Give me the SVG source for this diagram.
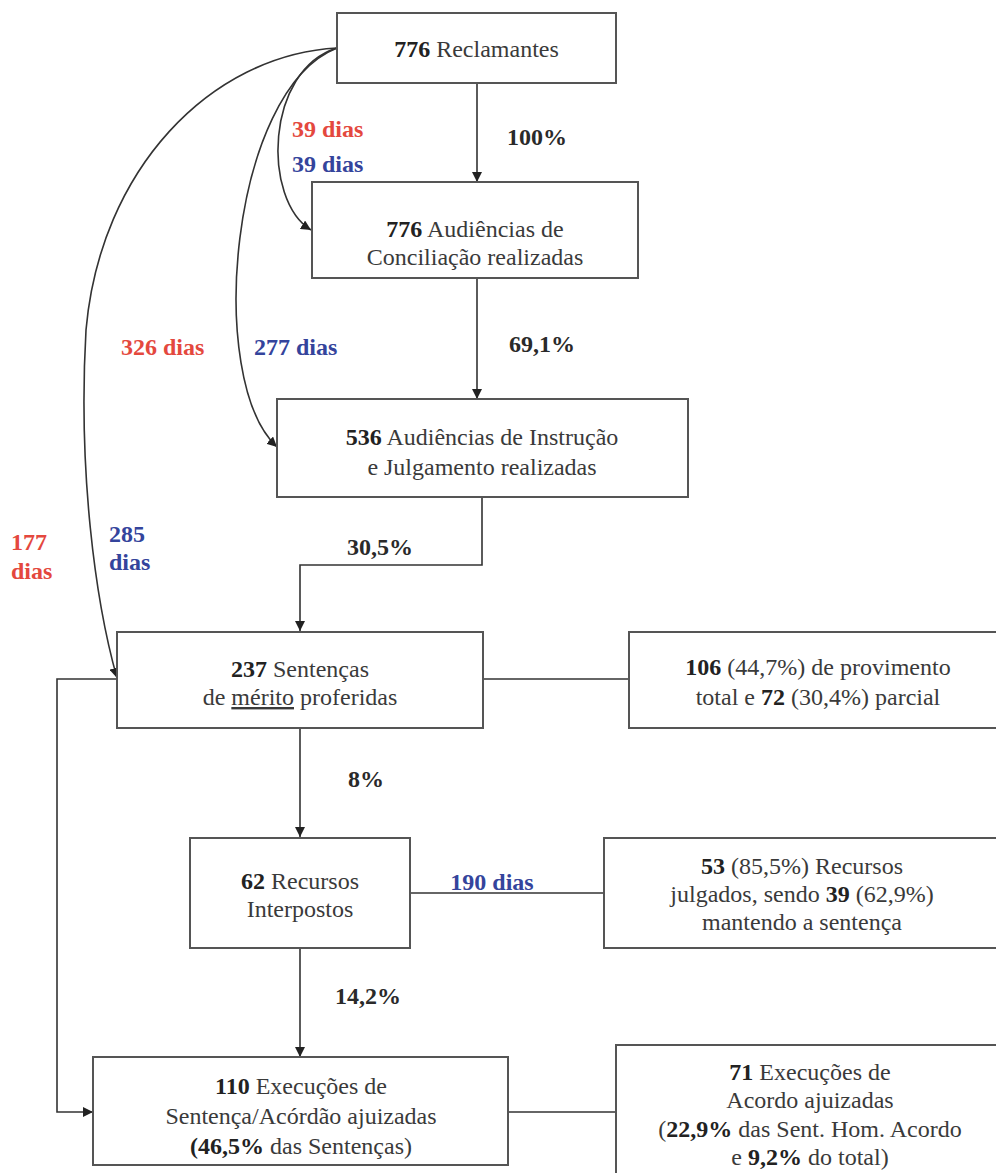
<svg xmlns="http://www.w3.org/2000/svg" width="996" height="1173" viewBox="0 0 996 1173">
<defs>
<style>
text{font-family:'Liberation Serif','Times New Roman','DejaVu Serif',serif;font-size:24px}
.box{fill:#fff;stroke:#555;stroke-width:2}
.t{fill:#3a3a3a;text-anchor:middle}
.b{font-weight:bold;fill:#222}
.lbl{font-weight:bold;fill:#2a2a2a;text-anchor:middle}
.red{font-weight:bold;fill:#e4483e}
.blue{font-weight:bold;fill:#34449c}
.ln{fill:none;stroke:#333;stroke-width:1.6}
</style>
<marker id="arr" viewBox="0 0 10 10" refX="10" refY="5" markerWidth="10" markerHeight="10" markerUnits="userSpaceOnUse" orient="auto">
<path d="M0,0 L10,5 L0,10 Z" fill="#222"/>
</marker>
</defs>
<rect width="996" height="1173" fill="#fff"/>
<g id="connectors">
<path class="ln" d="M477,83 V182" marker-end="url(#arr)"/>
<path class="ln" d="M477,278 V399" marker-end="url(#arr)"/>
<path class="ln" d="M482,497 V565 H300 V631" marker-end="url(#arr)"/>
<path class="ln" d="M300,728 V837" marker-end="url(#arr)"/>
<path class="ln" d="M300,948 V1057" marker-end="url(#arr)"/>
<path class="ln" d="M483,679 H629"/>
<path class="ln" d="M410,893 H604"/>
<path class="ln" d="M508,1112 H616"/>
<path class="ln" d="M117,679 H57 V1112 H93" marker-end="url(#arr)"/>
<path class="ln" d="M337,48 C265,70 262,200 311,230" marker-end="url(#arr)"/>
<path class="ln" d="M337,48 C230,90 205,380 277,447" marker-end="url(#arr)"/>
<path class="ln" d="M337,48 C210,55 100,170 86,330 C78,470 95,600 117,678" marker-end="url(#arr)"/>
</g>
<g id="labels">
<text class="lbl" x="537" y="145">100%</text>
<text class="lbl" x="542" y="352">69,1%</text>
<text class="lbl" x="380" y="555">30,5%</text>
<text class="lbl" x="366" y="787">8%</text>
<text class="lbl" x="368" y="1004">14,2%</text>
<text class="blue" x="492" y="890" text-anchor="middle">190 dias</text>
<text class="red" x="292" y="137">39 dias</text>
<text class="blue" x="292" y="172">39 dias</text>
<text class="red" x="121" y="355">326 dias</text>
<text class="blue" x="254" y="355">277 dias</text>
<text class="red" x="11" y="550">177</text>
<text class="red" x="11" y="579">dias</text>
<text class="blue" x="109" y="542">285</text>
<text class="blue" x="109" y="570">dias</text>
</g>
<g id="n1">
<rect class="box" x="337" y="13" width="279" height="70"/>
<text class="t" x="476.5" y="57"><tspan class="b">776</tspan> Reclamantes</text>
</g>
<g id="n2">
<rect class="box" x="312" y="182" width="326" height="96"/>
<text class="t" x="475" y="237"><tspan class="b">776</tspan> Audiências de</text>
<text class="t" x="475" y="265">Conciliação realizadas</text>
</g>
<g id="n3">
<rect class="box" x="277" y="399" width="411" height="98"/>
<text class="t" x="482" y="445"><tspan class="b">536</tspan> Audiências de Instrução</text>
<text class="t" x="482" y="475">e Julgamento realizadas</text>
</g>
<g id="n4">
<rect class="box" x="117" y="632" width="366" height="96"/>
<text class="t" x="300" y="677"><tspan class="b">237</tspan> Sentenças</text>
<text class="t" x="300" y="705">de <tspan text-decoration="underline">mérito</tspan> proferidas</text>
</g>
<g id="n5">
<rect class="box" x="629" y="632" width="380" height="96"/>
<text class="t" x="818" y="675"><tspan class="b">106</tspan> (44,7%) de provimento</text>
<text class="t" x="818" y="705">total e <tspan class="b">72</tspan> (30,4%) parcial</text>
</g>
<g id="n6">
<rect class="box" x="190" y="838" width="220" height="110"/>
<text class="t" x="300" y="889"><tspan class="b">62</tspan> Recursos</text>
<text class="t" x="300" y="917">Interpostos</text>
</g>
<g id="n7">
<rect class="box" x="604" y="838" width="405" height="110"/>
<text class="t" x="802" y="874"><tspan class="b">53</tspan> (85,5%) Recursos</text>
<text class="t" x="802" y="902">julgados, sendo <tspan class="b">39</tspan> (62,9%)</text>
<text class="t" x="802" y="930">mantendo a sentença</text>
</g>
<g id="n8">
<rect class="box" x="93" y="1057" width="415" height="108"/>
<text class="t" x="301" y="1094"><tspan class="b">110</tspan> Execuções de</text>
<text class="t" x="301" y="1124">Sentença/Acórdão ajuizadas</text>
<text class="t" x="301" y="1154"><tspan class="b">(46,5%</tspan> das Sentenças)</text>
</g>
<g id="n9">
<rect class="box" x="616" y="1045" width="393" height="140"/>
<text class="t" x="810" y="1080"><tspan class="b">71</tspan> Execuções de</text>
<text class="t" x="810" y="1108">Acordo ajuizadas</text>
<text class="t" x="810" y="1137">(<tspan class="b">22,9%</tspan> das Sent. Hom. Acordo</text>
<text class="t" x="810" y="1165">e <tspan class="b">9,2%</tspan> do total)</text>
</g>
</svg>
